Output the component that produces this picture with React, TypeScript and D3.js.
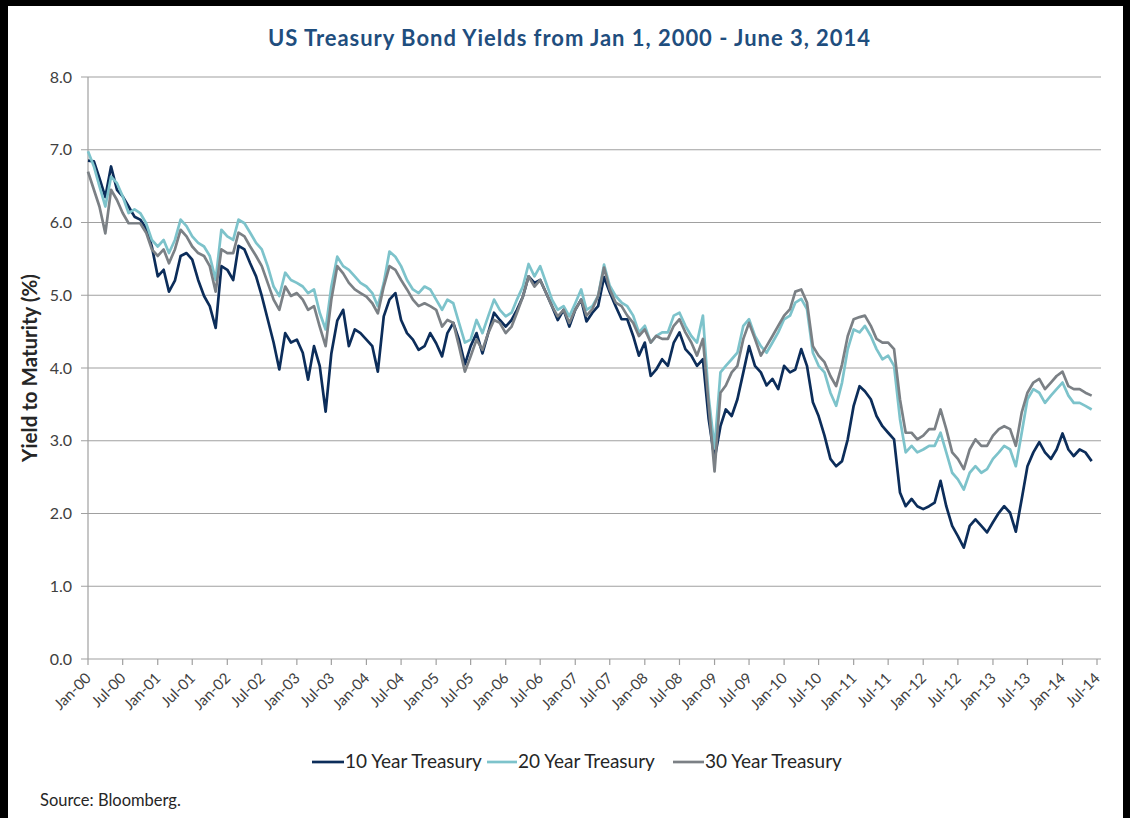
import React from "react";
import * as d3 from "d3";

const TITLE = "US Treasury Bond Yields from Jan 1, 2000 - June 3, 2014";
const SERIES_NAMES = ["10 Year Treasury", "20 Year Treasury", "30 Year Treasury"];
const SERIES_COLORS = ["#0C2D5A", "#7DC3CB", "#7B8085"];
const Y_TICKS = [0, 1, 2, 3, 4, 5, 6, 7, 8];

// monthly observations, Jan 2000 .. Jun 2014 (last = June 3, 2014)
const DATES: Date[] = d3.timeMonth.range(new Date(2000, 0, 1), new Date(2014, 6, 1));
DATES[DATES.length - 1] = new Date(2014, 5, 3);

const Y10 = [
  6.85, 6.84, 6.61, 6.35, 6.77, 6.45, 6.36, 6.22, 6.08, 6.04, 5.92, 5.67,
  5.26, 5.35, 5.05, 5.2, 5.54, 5.58, 5.49, 5.21, 4.99, 4.85, 4.55, 5.4,
  5.35, 5.21, 5.68, 5.63, 5.44, 5.26, 4.99, 4.67, 4.35, 3.98, 4.48, 4.35,
  4.39, 4.21, 3.84, 4.3, 4.03, 3.4, 4.2, 4.65, 4.8, 4.3, 4.53, 4.48,
  4.39, 4.3, 3.95, 4.71, 4.94, 5.03, 4.66, 4.48, 4.39, 4.25, 4.3, 4.48,
  4.34, 4.16, 4.48, 4.62, 4.39, 4.05, 4.3, 4.48, 4.2, 4.48, 4.76, 4.66,
  4.57, 4.66, 4.8, 4.98, 5.26, 5.17, 5.21, 5.03, 4.85, 4.66, 4.8, 4.57,
  4.8, 4.94, 4.64, 4.76, 4.85, 5.25, 5.04, 4.85, 4.67, 4.67, 4.44, 4.17,
  4.35, 3.89, 3.98, 4.12, 4.03, 4.35, 4.49, 4.26, 4.17, 4.03, 4.12, 3.3,
  2.75, 3.2, 3.43, 3.34, 3.57, 3.94, 4.3, 4.03, 3.94, 3.76, 3.85, 3.71,
  4.03, 3.94, 3.98, 4.26, 4.03, 3.53, 3.34, 3.07, 2.75, 2.65, 2.72, 3.02,
  3.48, 3.75, 3.68, 3.57, 3.34, 3.2, 3.11, 3.02, 2.29, 2.1, 2.2, 2.1,
  2.06, 2.1, 2.15, 2.45, 2.1, 1.83, 1.69, 1.53, 1.83, 1.92, 1.83, 1.74,
  1.88, 2.01, 2.1, 2.01, 1.75, 2.2, 2.65, 2.84, 2.98, 2.84, 2.75, 2.88,
  3.1, 2.88, 2.79, 2.88, 2.84, 2.72,
];

const Y20 = [
  6.98, 6.77, 6.5, 6.22, 6.63, 6.54, 6.36, 6.13, 6.18, 6.13, 5.99, 5.76,
  5.67, 5.76, 5.58, 5.76, 6.04, 5.95, 5.81, 5.72, 5.67, 5.54, 5.21, 5.9,
  5.81, 5.76, 6.04, 5.99, 5.86, 5.72, 5.63, 5.4, 5.12, 4.99, 5.31, 5.21,
  5.17, 5.12, 5.03, 5.08, 4.76, 4.53, 5.12, 5.53, 5.4, 5.35, 5.26, 5.17,
  5.12, 5.03, 4.85, 5.17, 5.6, 5.53, 5.4, 5.21, 5.08, 5.03, 5.12, 5.08,
  4.94, 4.8, 4.94, 4.89, 4.62, 4.35, 4.39, 4.66, 4.48, 4.71, 4.94, 4.8,
  4.71, 4.76, 4.94, 5.12, 5.43, 5.26, 5.4, 5.17, 4.94, 4.8, 4.85, 4.71,
  4.89, 5.08, 4.8, 4.85, 4.99, 5.42, 5.13, 4.99, 4.9, 4.85, 4.72, 4.49,
  4.58, 4.35, 4.44, 4.49, 4.49, 4.72, 4.76, 4.58, 4.44, 4.35, 4.72, 3.6,
  2.9, 3.94, 4.03, 4.12, 4.21, 4.58, 4.67, 4.44, 4.3, 4.21, 4.35, 4.49,
  4.67, 4.72, 4.9, 4.95, 4.81, 4.21, 4.03, 3.94, 3.66, 3.48, 3.8, 4.26,
  4.53, 4.49, 4.58, 4.44, 4.26, 4.12, 4.17, 4.03, 3.3, 2.84, 2.93, 2.84,
  2.88, 2.93, 2.93, 3.11, 2.84, 2.56, 2.47, 2.33, 2.56, 2.65, 2.56, 2.61,
  2.75, 2.84, 2.93, 2.88, 2.65, 3.11, 3.57, 3.71, 3.66, 3.52, 3.62, 3.71,
  3.8, 3.62, 3.52, 3.52, 3.48, 3.43,
];

const Y30 = [
  6.7, 6.45, 6.22, 5.85, 6.45, 6.31, 6.13, 5.99, 5.99, 5.99, 5.86, 5.63,
  5.54, 5.63, 5.44, 5.63, 5.9, 5.81, 5.67, 5.58, 5.54, 5.4, 5.05, 5.63,
  5.58, 5.58, 5.86, 5.81, 5.67, 5.54, 5.4, 5.17, 4.94, 4.8, 5.12, 4.99,
  5.03, 4.94, 4.8, 4.85, 4.57, 4.3, 4.94, 5.4, 5.3, 5.17, 5.08, 5.03,
  4.98, 4.89, 4.75, 5.12, 5.4, 5.35, 5.21, 5.08, 4.94, 4.85, 4.89, 4.85,
  4.8, 4.57, 4.66, 4.62, 4.3, 3.95, 4.16, 4.39, 4.25, 4.48, 4.66, 4.62,
  4.48, 4.57, 4.76, 4.98, 5.26, 5.12, 5.21, 5.03, 4.85, 4.71, 4.8, 4.62,
  4.8, 4.94, 4.72, 4.81, 4.99, 5.38, 5.08, 4.9, 4.85, 4.72, 4.62, 4.44,
  4.53, 4.35, 4.44, 4.4, 4.4, 4.58, 4.67, 4.49, 4.35, 4.17, 4.4, 3.5,
  2.58, 3.66, 3.76, 3.94, 4.03, 4.4, 4.62, 4.4, 4.17, 4.3, 4.44, 4.58,
  4.72, 4.81, 5.05, 5.08, 4.9, 4.3, 4.17, 4.08, 3.89, 3.75, 4.05, 4.44,
  4.67, 4.7, 4.72, 4.58, 4.4, 4.35, 4.35, 4.26, 3.57, 3.11, 3.11, 3.02,
  3.07, 3.16, 3.16, 3.43, 3.16, 2.84, 2.75, 2.61, 2.88, 3.02, 2.93, 2.93,
  3.07, 3.16, 3.2, 3.16, 2.93, 3.39, 3.66, 3.8, 3.85, 3.71, 3.8, 3.89,
  3.95, 3.75, 3.71, 3.71, 3.66, 3.62,
];

const SERIES = [Y10, Y20, Y30];

const W = 1130;
const H = 818;
const M = { left: 88, right: 1097, top: 77, bottom: 659 };
const GRID_RIGHT = 1101;
const FONT = "Lato, 'Open Sans', sans-serif";

export default function App() {
  const x = d3
    .scaleTime()
    .domain([new Date(2000, 0, 1), new Date(2014, 6, 1)])
    .range([M.left, M.right]);
  const y = d3.scaleLinear().domain([0, 8]).range([M.bottom, M.top]);
  const xTicks = d3.timeMonth.every(6)!.range(new Date(2000, 0, 1), new Date(2014, 6, 2));
  const fmt = d3.timeFormat("%b-%y");
  const line = d3
    .line<number>()
    .x((_, i) => x(DATES[i]))
    .y((d) => y(d));

  const legendItems = [
    { lx: 312, tx: 345 },
    { lx: 487, tx: 518 },
    { lx: 673, tx: 705 },
  ];

  return (
    <svg
      width={W}
      height={H}
      style={{ position: "absolute", left: 0, top: 0, background: "#fff" }}
      fontFamily={FONT}
    >
      <rect x={0} y={0} width={W} height={H} fill="#fff" />
      {/* frame */}
      <rect x={0} y={0} width={W} height={6} fill="#000" />
      <rect x={0} y={0} width={8} height={H} fill="#000" />
      <rect x={W - 7} y={0} width={7} height={H} fill="#000" />

      <text
        x={268}
        y={46}
        fontSize={22}
        fontWeight="bold"
        fill="#1F4E7E"
        textLength={602}
        lengthAdjust="spacing"
      >
        {TITLE}
      </text>

      {/* gridlines + y ticks */}
      {Y_TICKS.map((t) => (
        <g key={t}>
          <line
            x1={M.left - 7}
            x2={GRID_RIGHT}
            y1={y(t)}
            y2={y(t)}
            stroke="#A0A0A0"
            strokeWidth={1.2}
          />
          <text
            x={72}
            y={y(t)}
            dy="0.35em"
            textAnchor="end"
            fontSize={16}
            fill="#404040"
          >
            {d3.format(".1f")(t)}
          </text>
        </g>
      ))}

      {/* y axis line */}
      <line x1={M.left} x2={M.left} y1={M.top} y2={M.bottom} stroke="#A0A0A0" strokeWidth={1.2} />

      {/* x ticks */}
      {xTicks.map((d, i) => (
        <g key={i}>
          <line x1={x(d)} x2={x(d)} y1={M.bottom} y2={M.bottom + 6} stroke="#A0A0A0" strokeWidth={1.2} />
          <text
            transform={`translate(${x(d) + 4},${M.bottom + 20}) rotate(-45)`}
            textAnchor="end"
            fontSize={15}
            fill="#404040"
          >
            {fmt(d)}
          </text>
        </g>
      ))}

      {/* series */}
      {SERIES.map((s, i) => (
        <path
          key={i}
          d={line(s) || ""}
          fill="none"
          stroke={SERIES_COLORS[i]}
          strokeWidth={2.7}
          strokeLinejoin="round"
        />
      ))}

      {/* y title */}
      <text
        transform="translate(37,368) rotate(-90)"
        textAnchor="middle"
        fontSize={20.5}
        fontWeight="bold"
        fill="#262626"
      >
        Yield to Maturity (%)
      </text>

      {/* legend */}
      {SERIES_NAMES.map((n, i) => (
        <g key={n}>
          <line
            x1={legendItems[i].lx}
            x2={legendItems[i].tx - 1}
            y1={762}
            y2={762}
            stroke={SERIES_COLORS[i]}
            strokeWidth={2.7}
          />
          <text x={legendItems[i].tx} y={768} fontSize={19} fill="#262626">
            {n}
          </text>
        </g>
      ))}

      <text x={40} y={806} fontSize={16.5} fill="#262626">
        Source: Bloomberg.
      </text>
    </svg>
  );
}
